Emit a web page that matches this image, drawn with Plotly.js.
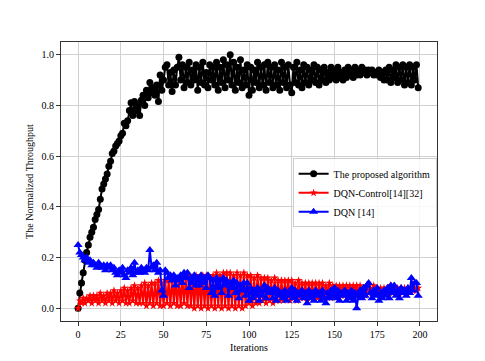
<!DOCTYPE html>
<html>
<head>
<meta charset="utf-8">
<script src="https://cdn.plot.ly/plotly-3.0.1.min.js"></script>
<style>
  html, body { margin: 0; padding: 0; background: #fff; }
  #plot1 { width: 485px; height: 361px; }
</style>
</head>
<body>
<div id="plot1"></div>
<script>
// values, 200 iterations per curve
var proposed = [
  0.00, 0.06, 0.10, 0.14, 0.19, 0.22, 0.25, 0.28, 0.30, 0.32, 0.35, 0.37, 0.39, 0.43, 0.47, 0.49, 0.51, 0.53, 0.56, 0.58,
  0.61, 0.62, 0.64, 0.65, 0.66, 0.68, 0.69, 0.73, 0.72, 0.74, 0.78, 0.81, 0.76, 0.815, 0.78, 0.80, 0.76, 0.82, 0.84, 0.80,
  0.86, 0.83, 0.89, 0.85, 0.87, 0.84, 0.88, 0.815, 0.92, 0.86, 0.90, 0.95, 0.96, 0.88, 0.93, 0.855, 0.94, 0.88, 0.95, 0.99,
  0.90, 0.96, 0.87, 0.95, 0.89, 0.97, 0.88, 0.94, 0.90, 0.96, 0.86, 0.95, 0.89, 0.97, 0.88, 0.93, 0.87, 0.96, 0.90, 0.95,
  0.88, 0.97, 0.86, 0.95, 0.89, 0.98, 0.87, 0.96, 0.90, 1.00, 0.88, 0.97, 0.86, 0.95, 0.89, 0.98, 0.87, 0.94, 0.88, 0.96,
  0.84, 0.95, 0.86, 0.94, 0.89, 0.97, 0.87, 0.95, 0.88, 0.96, 0.86, 0.97, 0.89, 0.95, 0.87, 0.96, 0.88, 0.94, 0.86, 0.97,
  0.89, 0.95, 0.87, 0.96, 0.88, 0.85, 0.95, 0.89, 0.97, 0.88, 0.94, 0.87, 0.96, 0.89, 0.95, 0.88, 0.94, 0.90, 0.96, 0.89,
  0.95, 0.88, 0.94, 0.90, 0.95, 0.89, 0.93, 0.90, 0.95, 0.91, 0.94, 0.90, 0.95, 0.91, 0.93, 0.90, 0.94, 0.91, 0.95, 0.92,
  0.94, 0.91, 0.95, 0.92, 0.94, 0.92, 0.95, 0.93, 0.94, 0.92, 0.94, 0.93, 0.94, 0.92, 0.93, 0.92, 0.94, 0.91, 0.93, 0.90,
  0.94, 0.90, 0.95, 0.89, 0.94, 0.91, 0.96, 0.89, 0.95, 0.90, 0.96, 0.88, 0.95, 0.89, 0.96, 0.88, 0.95, 0.90, 0.96, 0.87
];
var dqnControl = [
  0.00, 0.03, 0.02, 0.04, 0.02, 0.04, 0.03, 0.05, 0.02, 0.05, 0.03, 0.05, 0.02, 0.06, 0.03, 0.05, 0.02, 0.06, 0.03, 0.06,
  0.02, 0.07, 0.03, 0.06, 0.02, 0.07, 0.03, 0.08, 0.02, 0.07, 0.02, 0.08, 0.03, 0.09, 0.02, 0.08, 0.02, 0.09, 0.02, 0.10,
  0.01, 0.09, 0.02, 0.10, 0.01, 0.10, 0.02, 0.11, 0.01, 0.10, 0.01, 0.11, 0.02, 0.11, 0.01, 0.12, 0.02, 0.11, 0.01, 0.12,
  0.01, 0.12, 0.02, 0.12, 0.01, 0.13, 0.01, 0.12, 0.00, 0.13, 0.01, 0.12, 0.00, 0.13, 0.01, 0.13, 0.00, 0.12, 0.01, 0.13,
  0.00, 0.14, 0.01, 0.13, 0.00, 0.14, 0.01, 0.14, 0.00, 0.14, 0.01, 0.13, 0.00, 0.14, 0.01, 0.13, 0.00, 0.14, 0.01, 0.13,
  0.02, 0.13, 0.01, 0.12, 0.02, 0.13, 0.02, 0.12, 0.03, 0.12, 0.02, 0.12, 0.03, 0.11, 0.02, 0.12, 0.03, 0.11, 0.03, 0.11,
  0.03, 0.11, 0.04, 0.11, 0.03, 0.11, 0.04, 0.10, 0.03, 0.11, 0.04, 0.10, 0.04, 0.10, 0.03, 0.10, 0.04, 0.10, 0.04, 0.10,
  0.04, 0.10, 0.05, 0.10, 0.04, 0.09, 0.05, 0.10, 0.04, 0.09, 0.05, 0.09, 0.05, 0.09, 0.05, 0.09, 0.05, 0.09, 0.05, 0.09,
  0.05, 0.09, 0.06, 0.09, 0.05, 0.09, 0.06, 0.08, 0.05, 0.09, 0.06, 0.08, 0.06, 0.09, 0.06, 0.08, 0.06, 0.08, 0.06, 0.08,
  0.06, 0.08, 0.06, 0.09, 0.06, 0.08, 0.07, 0.08, 0.06, 0.08, 0.07, 0.08, 0.06, 0.08, 0.07, 0.08, 0.07, 0.08, 0.07, 0.08
];
var dqn = [
  0.25, 0.22, 0.21, 0.20, 0.19, 0.20, 0.18, 0.19, 0.17, 0.18, 0.17, 0.16, 0.18, 0.17, 0.16, 0.17, 0.15, 0.17, 0.16, 0.17,
  0.15, 0.16, 0.14, 0.13, 0.15, 0.14, 0.16, 0.13, 0.12, 0.15, 0.14, 0.16, 0.13, 0.18, 0.14, 0.15, 0.14, 0.16, 0.15, 0.14,
  0.16, 0.15, 0.23, 0.16, 0.17, 0.15, 0.18, 0.14, 0.15, 0.07, 0.05, 0.15, 0.14, 0.12, 0.13, 0.11, 0.13, 0.09, 0.12, 0.11,
  0.13, 0.10, 0.14, 0.12, 0.14, 0.08, 0.12, 0.10, 0.13, 0.09, 0.12, 0.09, 0.13, 0.10, 0.12, 0.08, 0.13, 0.12, 0.06, 0.11,
  0.05, 0.12, 0.08, 0.11, 0.06, 0.12, 0.09, 0.11, 0.05, 0.10, 0.08, 0.11, 0.06, 0.10, 0.04, 0.09, 0.07, 0.10, 0.05, 0.10,
  0.03, 0.08, 0.04, 0.07, 0.05, 0.08, 0.03, 0.07, 0.05, 0.09, 0.04, 0.08, 0.06, 0.07, 0.04, 0.08, 0.03, 0.07, 0.05, 0.06,
  0.04, 0.07, 0.03, 0.06, 0.05, 0.08, 0.04, 0.07, 0.03, 0.06, 0.05, 0.07, 0.04, 0.06, 0.02, 0.07, 0.04, 0.06, 0.03, 0.07,
  0.05, 0.06, 0.03, 0.07, 0.04, 0.02, 0.06, 0.04, 0.07, 0.05, 0.08, 0.04, 0.07, 0.03, 0.06, 0.05, 0.07, 0.03, 0.06, 0.04,
  0.07, 0.03, 0.06, 0.00, 0.05, 0.07, 0.04, 0.08, 0.05, 0.09, 0.10, 0.06, 0.04, 0.07, 0.05, 0.08, 0.03, 0.06, 0.04, 0.07,
  0.05, 0.08, 0.04, 0.09, 0.06, 0.09, 0.05, 0.07, 0.04, 0.08, 0.06, 0.07, 0.05, 0.08, 0.06, 0.12, 0.07, 0.10, 0.10, 0.05
];
var seriesNames = ["The proposed algorithm", "DQN-Control[14][32]", "DQN [14]"];
var xTicks = [0, 25, 50, 75, 100, 125, 150, 175, 200];
var yTicks = [0.0, 0.2, 0.4, 0.6, 0.8, 1.0];

var iters = [];
for (var i = 0; i < proposed.length; i++) iters.push(i);

var serif = "'Liberation Serif', 'Times New Roman', Times, serif";

var data = [
  {
    x: iters, y: proposed, name: seriesNames[0], type: 'scatter', mode: 'lines+markers',
    line: {color: 'black', width: 2},
    marker: {symbol: 'circle', size: 7, color: 'black'}
  },
  {
    x: iters, y: dqnControl, name: seriesNames[1], type: 'scatter', mode: 'lines+markers',
    line: {color: 'red', width: 2},
    marker: {symbol: 'star', size: 6, color: 'red'}
  },
  {
    x: iters, y: dqn, name: seriesNames[2], type: 'scatter', mode: 'lines+markers',
    line: {color: 'blue', width: 2},
    marker: {symbol: 'triangle-up', size: 8, color: 'blue'}
  }
];

var layout = {
  width: 485, height: 361,
  margin: {l: 61, r: 48, t: 42, b: 40},
  paper_bgcolor: 'white', plot_bgcolor: 'white',
  font: {family: serif, size: 10, color: 'black'},
  showlegend: true,
  xaxis: {
    range: [-10, 210], tickvals: xTicks, ticktext: xTicks.map(String),
    showgrid: true, gridcolor: '#d0d0d0', gridwidth: 1, zeroline: false,
    showline: true, linecolor: '#333', linewidth: 1, mirror: true,
    ticks: 'outside', ticklen: 4, tickcolor: '#333',
    title: {text: 'Iterations', font: {family: serif, size: 10}, standoff: 4}
  },
  yaxis: {
    range: [-0.05, 1.05], tickvals: yTicks, ticktext: yTicks.map(function(v){ return v.toFixed(1); }),
    showgrid: true, gridcolor: '#d0d0d0', gridwidth: 1, zeroline: false,
    showline: true, linecolor: '#333', linewidth: 1, mirror: true,
    ticks: 'outside', ticklen: 4, tickcolor: '#333',
    title: {text: 'The Normalized Throughput', font: {family: serif, size: 10}, standoff: 6}
  },
  legend: {
    x: 0.616, y: 0.583, xanchor: 'left', yanchor: 'top',
    bgcolor: 'rgba(255,255,255,0.85)', bordercolor: '#cccccc', borderwidth: 1,
    font: {family: serif, size: 10}, tracegroupgap: 0, itemwidth: 30
  }
};

Plotly.newPlot("plot1", data, layout, {staticPlot: true});
</script>
</body>
</html>
